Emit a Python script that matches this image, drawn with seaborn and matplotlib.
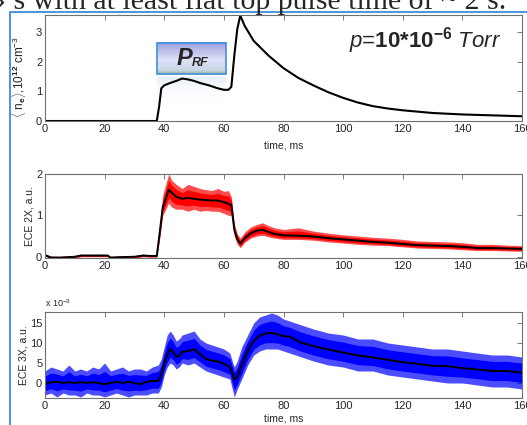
import numpy as np
import matplotlib
matplotlib.use("Agg")
import matplotlib.pyplot as plt
from matplotlib.lines import Line2D
from matplotlib.patches import Rectangle
import seaborn as sns

# ---- panel 1: line-averaged density <n_e>, 1e12 cm^-3
t_ne = [0, 10, 20, 30, 37.5, 38.3, 39, 40, 42, 44, 46, 48, 50, 52, 55, 58, 60, 61.5, 62.5,
        63.5, 64.5, 65.5, 67, 70, 75, 80, 85, 90, 95, 100, 105, 110, 115, 120, 130, 140, 150, 160]
ne = [0.0, 0.0, 0.0, 0.0, 0.0, 0.5, 1.1, 1.2, 1.28, 1.35, 1.43, 1.4, 1.35, 1.28, 1.2, 1.1,
      1.05, 1.05, 1.15, 2.2, 3.1, 3.55, 3.2, 2.7, 2.2, 1.78, 1.45, 1.2, 0.97, 0.78, 0.62,
      0.5, 0.42, 0.36, 0.27, 0.22, 0.19, 0.16]

# ---- panel 2: ECE 2X, a.u. (smoothed value and noise envelope)
t_2x = [0, 2, 5, 10, 12, 16, 20, 21, 22, 25, 30, 33, 35, 37.5, 38.5, 39.5, 40.5, 41.5, 42.5,
        44, 46, 48, 50, 52, 54, 56, 58, 60, 61.5, 62.5, 63.5, 64.5, 65.5, 67, 69, 71, 73, 75,
        77, 80, 85, 90, 95, 100, 105, 110, 115, 120, 125, 130, 135, 140, 145, 150, 155, 160]
ece2_mean = [0.04, -0.02, -0.02, 0.0, 0.03, 0.03, 0.03, 0.03, -0.02, -0.01, 0.0, 0.03, 0.02,
             0.02, 0.6, 1.2, 1.4, 1.62, 1.55, 1.45, 1.40, 1.42, 1.40, 1.38, 1.37, 1.36, 1.36,
             1.32, 1.28, 1.25, 0.65, 0.42, 0.32, 0.45, 0.57, 0.63, 0.65, 0.6, 0.55, 0.52, 0.51,
             0.49, 0.45, 0.42, 0.39, 0.36, 0.34, 0.31, 0.28, 0.27, 0.26, 0.24, 0.21, 0.21, 0.2, 0.19]
ece2_hi = [0.07, 0.02, 0.01, 0.03, 0.06, 0.06, 0.06, 0.06, 0.01, 0.02, 0.03, 0.06, 0.05,
           0.05, 0.8, 1.5, 1.75, 2.0, 1.85, 1.75, 1.65, 1.75, 1.7, 1.65, 1.62, 1.6, 1.65,
           1.58, 1.6, 1.45, 0.8, 0.55, 0.45, 0.6, 0.72, 0.78, 0.82, 0.75, 0.7, 0.66, 0.7,
           0.62, 0.57, 0.53, 0.5, 0.47, 0.45, 0.42, 0.38, 0.37, 0.36, 0.34, 0.3, 0.3, 0.28, 0.27]
ece2_lo = [0.01, -0.05, -0.05, -0.03, 0.0, 0.0, 0.0, 0.0, -0.05, -0.04, -0.03, 0.0, -0.01,
           -0.01, 0.45, 1.0, 1.15, 1.3, 1.2, 1.15, 1.15, 1.1, 1.15, 1.1, 1.12, 1.1, 1.1,
           1.05, 1.0, 1.0, 0.5, 0.3, 0.22, 0.35, 0.45, 0.5, 0.52, 0.48, 0.45, 0.42, 0.42,
           0.4, 0.36, 0.33, 0.3, 0.28, 0.27, 0.24, 0.21, 0.2, 0.19, 0.17, 0.15, 0.15, 0.14, 0.13]

# ---- panel 3: ECE 3X, a.u. x 1e-3
t_3x = [0, 2, 4, 6, 8, 10, 12, 14, 16, 18, 20, 22, 24, 26, 28, 30, 32, 34, 36, 38, 39, 40,
        41, 42, 43, 44, 45, 46, 48, 50, 52, 54, 56, 58, 60, 62, 63, 63.5, 64.5, 66, 68, 70,
        72, 74, 76, 78, 80, 82, 84, 86, 88, 90, 95, 100, 105, 110, 115, 120, 125, 130, 135,
        140, 145, 150, 155, 160]
ece3_mean = [-0.2, 0.2, 0.3, 0.0, 0.2, 0.0, 0.2, 0.0, 0.2, 0.0, -0.3, 0.0, 0.3, 0.0, 0.3,
             0.0, -0.3, 0.3, 0.5, 0.5, 2.0, 5.0, 7.0, 8.5, 7.8, 6.6, 6.8, 7.8, 8.0, 8.4, 7.2,
             6.0, 5.6, 5.4, 4.8, 4.0, 2.0, 0.8, 1.5, 4.5, 8.0, 10.5, 11.8, 12.4, 12.5, 12.2,
             11.7, 11.6, 10.8, 10.0, 9.7, 9.2, 8.4, 7.6, 6.9, 6.4, 5.8, 5.2, 4.8, 4.3, 4.2,
             3.7, 3.4, 3.0, 3.0, 2.6]
ece3_hi = [3.0, 4.0, 3.5, 3.0, 4.5, 3.0, 3.5, 3.0, 4.0, 3.5, 5.0, 3.0, 3.5, 4.0, 3.0, 3.5,
           3.5, 3.0, 4.0, 4.5, 6.0, 9.0, 12.0, 13.0, 12.0, 10.5, 11.0, 12.0, 12.5, 13.0, 11.0,
           10.0, 9.5, 9.0, 8.5, 7.5, 5.0, 4.0, 5.5, 9.0, 12.0, 15.0, 16.5, 17.0, 17.5, 17.0,
           16.0, 15.5, 15.0, 14.5, 14.0, 13.5, 12.5, 12.0, 11.0, 11.0, 10.0, 9.5, 9.0, 8.5,
           8.5, 8.0, 7.5, 7.0, 7.0, 6.5]
ece3_lo = [-3.0, -2.5, -3.5, -2.5, -3.0, -3.0, -3.5, -2.5, -3.0, -3.0, -3.5, -3.0, -2.5,
           -3.0, -3.5, -3.0, -3.0, -3.0, -2.5, -2.5, -1.0, 2.0, 4.0, 5.0, 4.5, 3.5, 4.0, 5.0,
           4.5, 5.0, 4.0, 3.0, 2.5, 2.0, 1.5, 1.0, -2.0, -3.5, -1.5, 1.0, 4.5, 7.0, 8.0, 8.5,
           8.5, 8.5, 8.0, 7.5, 7.0, 6.5, 6.0, 5.5, 4.5, 4.0, 3.0, 3.0, 2.0, 1.5, 1.0, 0.5,
           0.0, 0.0, -0.5, -1.0, -1.0, -1.5]

x_ticks = [0, 20, 40, 60, 80, 100, 120, 140, 160]

sns.set_style("white")
plt.rcParams["font.family"] = ["Liberation Sans", "DejaVu Sans"]
plt.rcParams["mathtext.fontset"] = "custom"
plt.rcParams["mathtext.rm"] = "Liberation Sans"
plt.rcParams["mathtext.it"] = "Liberation Sans:italic"
plt.rcParams["mathtext.bf"] = "Liberation Sans:bold"

fig = plt.figure(figsize=(5.27, 4.25), dpi=100)
W, H = 527.0, 425.0


def px_axes(top, bottom, left=45, right=522):
    return fig.add_axes([left / W, 1 - bottom / H, (right - left) / W, (bottom - top) / H])


def matlab_style(ax, yticks, ylim):
    ax.set_xlim(0, 160)
    ax.set_ylim(*ylim)
    ax.set_xticks(x_ticks)
    ax.set_yticks(yticks)
    ax.tick_params(direction="in", length=3.5, width=0.6, color="#666666",
                   top=True, right=True, labelsize=8, pad=2)
    for s in ax.spines.values():
        s.set_color("#707070")
        s.set_linewidth(0.8)


def noisy_band(ax, t, mean, lo, hi, color):
    # outer (sparse) part of the noise, then the dense core around the mean
    ax.fill_between(t, lo, hi, color=color, alpha=0.7, lw=0)
    core_lo = [m - 0.6 * (m - l) for m, l in zip(mean, lo)]
    core_hi = [m + 0.6 * (h - m) for m, h in zip(mean, hi)]
    ax.fill_between(t, core_lo, core_hi, color=color, alpha=1.0, lw=0)


# frame lines of the slide
fig.add_artist(Line2D([10 / W, 10 / W, 1.0], [0, 1 - 12 / H, 1 - 12 / H],
                      color="#4a95dc", lw=1.4, transform=fig.transFigure))
fig.text(-4 / W, 1 - 9 / H, "\u203a s with at least flat top pulse time of ~ 2 s.",
         family="Liberation Serif", fontsize=21.5, va="baseline", ha="left")

# ---- panel 1
ax1 = px_axes(15, 121)
sns.lineplot(x=t_ne, y=ne, color="black", lw=1.5, ax=ax1)
matlab_style(ax1, [0, 1, 2, 3], (0, 3.57))
ax1.set_xlabel("time, ms", fontsize=7.5, labelpad=5)
ax1.set_ylabel(r"$\langle$ n$_\mathbf{e}\rangle$,10$^\mathbf{12}$ cm$^{-3}$", fontsize=8.5)
ax1.yaxis.set_label_coords(-0.036, 0.42)
ax1.text(0.797, 0.76, r"$p$=$\mathbf{10{*}10^{-6}}$ $Torr$", transform=ax1.transAxes,
         ha="center", va="center", fontsize=16)

# P_RF box with gradient fill
bx0, bx1, by0, by1 = 0.235, 0.379, 0.443, 0.736
grad = np.linspace(0, 1, 64).reshape(-1, 1)
cmap = matplotlib.colors.LinearSegmentedColormap.from_list(
    "prf", [(0.0, "#9fb5a6"), (0.12, "#c9d7e6"), (0.45, "#dfe2f8"), (1.0, "#9d9ddc")])
ax1.imshow(grad, extent=(bx0, bx1, by0, by1), transform=ax1.transAxes, cmap=cmap,
           aspect="auto", origin="lower", zorder=3)
ax1.add_patch(Rectangle((bx0, by0), bx1 - bx0, by1 - by0, transform=ax1.transAxes,
                        fill=False, ec="#3d8fdc", lw=1.2, zorder=4))
ax1.text(0.293, 0.59, "P", transform=ax1.transAxes, fontsize=17, fontweight="bold",
         style="italic", ha="center", va="center", zorder=5)
ax1.text(0.307, 0.55, "RF", transform=ax1.transAxes, fontsize=9, fontweight="bold",
         style="italic", ha="left", va="center", zorder=5)
# faint reflection of the box
refl = matplotlib.colors.LinearSegmentedColormap.from_list(
    "refl", [(0.0, (1, 1, 1, 0)), (1.0, (0.82, 0.87, 0.95, 0.5))])
ax1.imshow(grad, extent=(bx0, bx1, 0.17, by0 - 0.03), transform=ax1.transAxes, cmap=refl,
           aspect="auto", origin="lower", zorder=1)

# ---- panel 2
ax2 = px_axes(174, 258)
noisy_band(ax2, t_2x, ece2_mean, ece2_lo, ece2_hi, "#ff0000")
sns.lineplot(x=t_2x, y=ece2_mean, color="black", lw=1.4, ax=ax2)
matlab_style(ax2, [0, 1, 2], (-0.03, 2.0))
ax2.set_ylabel("ECE 2X, a.u.", fontsize=7.5, labelpad=1)

# ---- panel 3
ax3 = px_axes(312, 398)
noisy_band(ax3, t_3x, ece3_mean, ece3_lo, ece3_hi, "#0000ff")
sns.lineplot(x=t_3x, y=ece3_mean, color="black", lw=1.4, ax=ax3)
matlab_style(ax3, [0, 5, 10, 15], (-3.75, 17.75))
ax3.set_ylabel("ECE 3X, a.u.", fontsize=7.5, labelpad=1)
ax3.set_xlabel("time, ms", fontsize=7.5, labelpad=2)
ax3.text(0.0, 1.04, r"x 10$^{-3}$", transform=ax3.transAxes, fontsize=6.5, ha="left", va="bottom")

fig.savefig("out.png", dpi=100)
